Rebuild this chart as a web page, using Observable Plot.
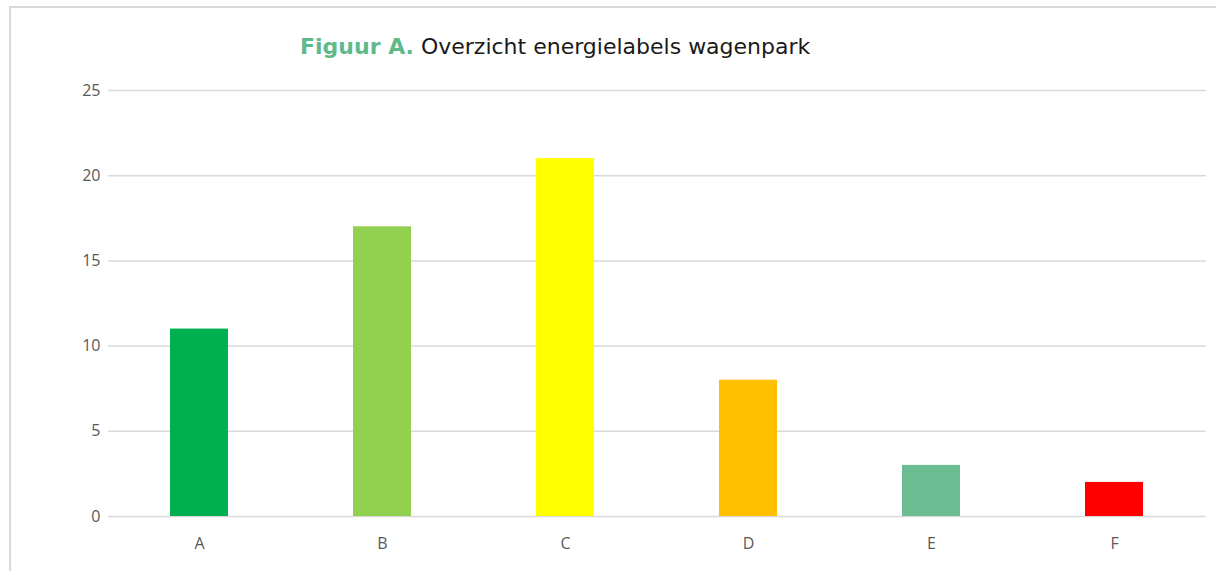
<!DOCTYPE html>
<html>
<head>
<meta charset="utf-8">
<script src="https://cdn.jsdelivr.net/npm/d3@7"></script>
<script src="https://cdn.jsdelivr.net/npm/@observablehq/plot@0.6"></script>
<style>
  html, body { margin: 0; padding: 0; background: #fff; }
  #wrap { position: relative; width: 1216px; height: 571px; overflow: hidden; }
  #frame { position: absolute; left: 9px; top: 6px; width: 1220px; height: 580px;
           border-top: 2px solid #d9d9d9; border-left: 2px solid #d9d9d9; box-sizing: border-box; }
  #title { position: absolute; left: 300px; top: 34px; font-family: "DejaVu Sans", Verdana, sans-serif;
           font-size: 22px; line-height: 26px; color: #1a1a1a; white-space: nowrap; }
  #title b { color: #5fba8b; }
  #chart { position: absolute; left: 0; top: 0; }
</style>
</head>
<body>
<div id="wrap">
  <div id="frame"></div>
  <div id="chart"></div>
  <div id="title"><b>Figuur A.</b> Overzicht energielabels wagenpark</div>
</div>
<script>
const categories = ["A", "B", "C", "D", "E", "F"];
const counts = [11, 17, 21, 8, 3, 2];
const yTicks = [0, 5, 10, 15, 20, 25];
const barColors = ["#00b050", "#92d050", "#ffff00", "#ffc000", "#6bbd91", "#ff0000"];

const data = categories.map((c, i) => ({label: c, value: counts[i]}));

const chart = Plot.plot({
  width: 1216,
  height: 571,
  marginLeft: 108,
  marginRight: 10,
  marginTop: 90,
  marginBottom: 55,
  style: {fontFamily: "'Open Sans', 'Segoe UI', sans-serif", fontSize: "16px", color: "#595959", background: "transparent"},
  x: {domain: categories, paddingInner: 0.683, paddingOuter: 0.3415, label: null},
  y: {domain: [0, 25], ticks: yTicks, label: null},
  color: {domain: categories, range: barColors},
  marks: [
    Plot.ruleY(yTicks, {stroke: "#d9d9d9", strokeWidth: 1.5}),
    Plot.barY(data, {x: "label", y: "value", fill: "label"}),
    Plot.axisY({ticks: yTicks, tickSize: 0, tickPadding: 8, fill: "#595959", fontSize: 16}),
    Plot.axisX({tickSize: 0, tickPadding: 21, fill: "#595959", fontSize: 16})
  ]
});
document.getElementById("chart").appendChild(chart);
</script>
</body>
</html>
